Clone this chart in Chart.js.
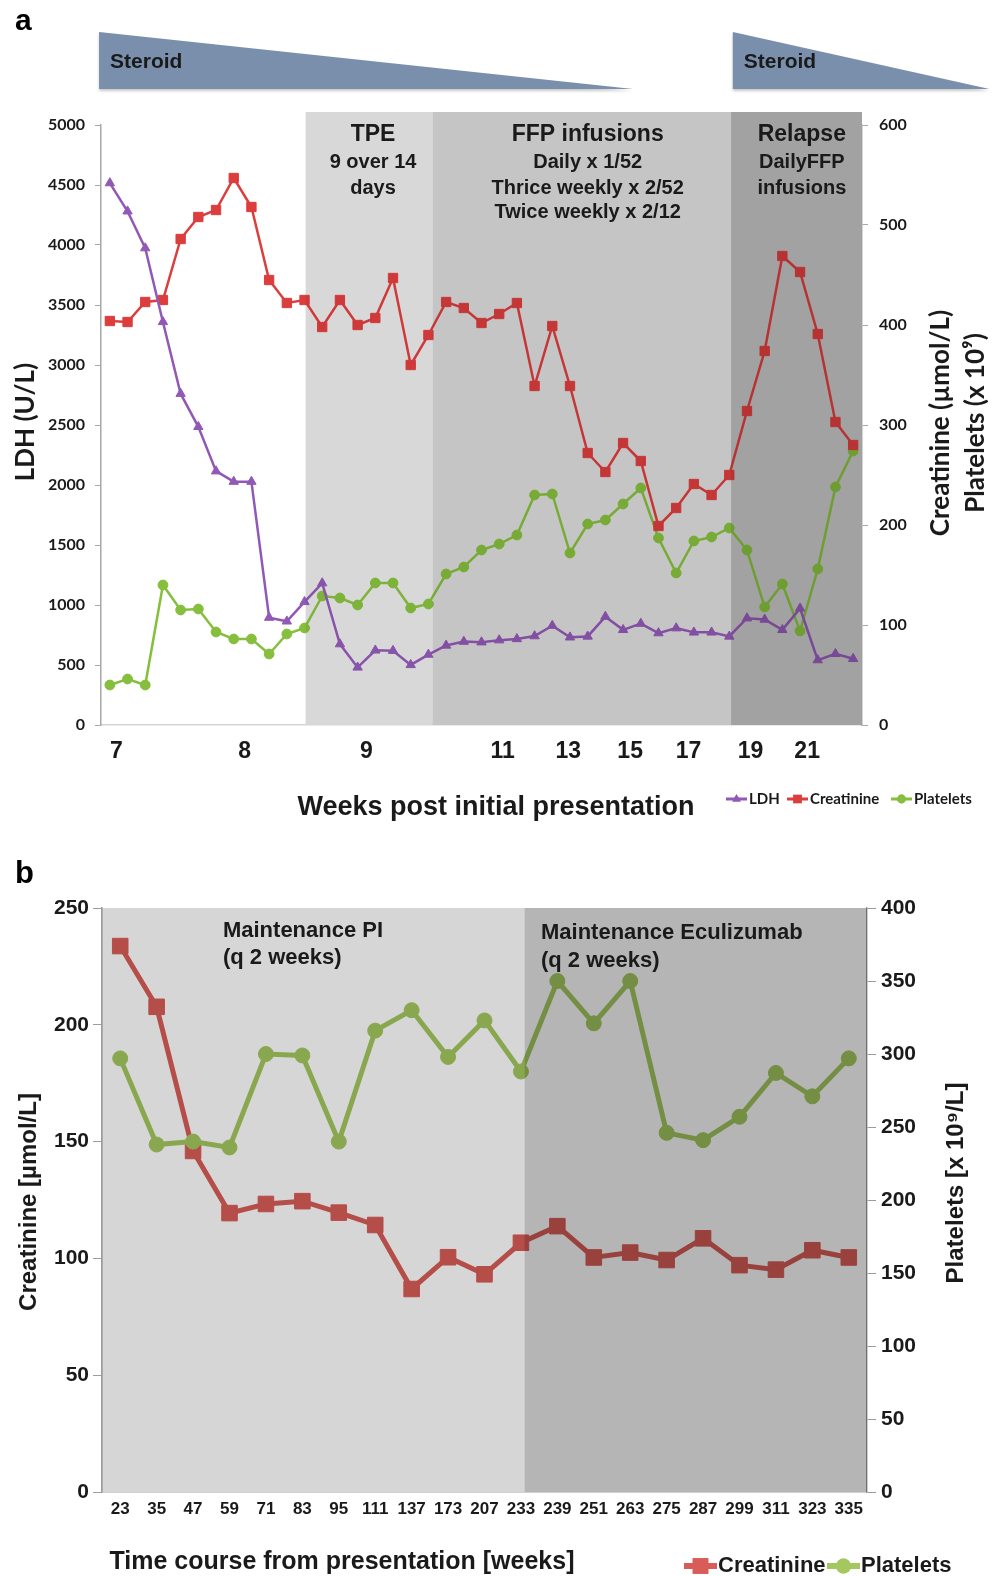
<!DOCTYPE html>
<html>
<head>
<meta charset="utf-8">
<script src="https://cdn.jsdelivr.net/npm/chart.js@4.4.1/dist/chart.umd.min.js"></script>
<style>
html,body{margin:0;padding:0;background:#fff;}
#wrap{position:relative;width:998px;height:1576px;overflow:hidden;background:#fff;}
#ca{position:absolute;left:0;top:0;}
#cb{position:absolute;left:0;top:835px;}
</style>
</head>
<body>
<div id="wrap">
<canvas id="ca" width="998" height="835"></canvas>
<canvas id="cb" width="998" height="741"></canvas>
</div>
<script>
// ---------------- Panel a data ----------------
const weeksATickPos    = [0.37, 7.62, 14.5, 22.2, 25.9, 29.4, 32.7, 36.2, 39.4];
const weeksATickLabels = ['7','8','9','11','13','15','17','19','21'];
const ldhA = [4516,4281,3974,3359,2761,2485,2115,2028,2028,895,864,1026,1182,674,480,622,619,501,587,663,695,690,707,717,741,828,731,738,903,793,845,766,807,772,772,738,890,879,793,972,541,593,552];
const creatinineA = [404,403,423,425,486,508,515,547,518,445,422,425,398,425,400,407,447,360,390,423,417,402,411,422,339,399,339,272,253,282,264,199,217,241,230,250,314,374,469,453,391,303,280];
const plateletsA = [40,46,40,140,115,116,93,86,86,71,91,97,129,127,120,142,142,117,121,151,158,175,181,190,230,231,172,201,205,221,237,187,152,184,188,197,175,118,141,94,156,238,274];
const phaseStartA = [11.06, 18.23, 35.1];
const phaseEndA   = [18.23, 35.1, 42.5];
const phaseLabelPosA = [14.87, 27.0, 39.1];
const phaseTitlesA = ['TPE', 'FFP infusions', 'Relapse'];
const phaseNotesA = [['9 over 14','days'], ['Daily x 1/52','Thrice weekly x 2/52','Twice weekly x 2/12'], ['DailyFFP','infusions']];
const steroidStartA = [-0.61, 35.2];
const steroidEndA   = [29.56, 49.7];
const steroidLabel = 'Steroid';

// ---------------- Panel b data ----------------
const weeksB = ['23','35','47','59','71','83','95','111','137','173','207','233','239','251','263','275','287','299','311','323','335'];
const creatinineB = [233.7,207.7,146,119.4,123.3,124.5,119.6,114.3,86.9,100.5,93.2,106.7,113.8,100.4,102.5,99.3,108.6,97.1,95.2,103.5,100.4];
const plateletsB  = [297,238,240,236,300,299,240,316,330,298,323,288,350,321,350,246,241,257,287,271,297];
const phaseStartB = [-0.5, 11.1];
const phaseEndB   = [11.1, 20.5];
const phaseLabelPosB = [2.82, 11.55];
const phaseTitlesB = [['Maintenance PI','(q 2 weeks)'], ['Maintenance Eculizumab','(q 2 weeks)']];

// ---------------- styles ----------------
const ARIAL = "'Liberation Sans', Arial, Helvetica, sans-serif";
const LATO = "Lato, 'Open Sans', sans-serif";
const TXT = '#1a1a1a';
const colA = {ldh:'#9159b5', cre:'#dc3d3d', plt:'#85bf3d'};
const colB = {cre:'#d85c57', plt:'#a4c85f'};
const underA = ['#e6e6e6', '#dcdcdc', '#c3c3c3'];
const shadeA = [0.06, 0.1, 0.17];
const shadeB = [0.16, 0.29];

function rotText(ctx, txt, x, y, font){
  ctx.save();
  ctx.translate(x, y);
  ctx.rotate(-Math.PI/2);
  ctx.font = font;
  ctx.fillStyle = TXT;
  ctx.textAlign = 'center';
  ctx.textBaseline = 'middle';
  ctx.fillText(txt, 0, 0);
  ctx.restore();
}

// ---------------- Panel a ----------------
const plugA = {
  id:'plugA',
  beforeDatasetsDraw(chart){
    const {ctx, chartArea:a, scales:{x}} = chart;
    ctx.save();
    const top = a.top - 13;
    phaseStartA.forEach((s,k)=>{
      const x0 = x.getPixelForValue(s), x1 = x.getPixelForValue(phaseEndA[k]);
      ctx.fillStyle = underA[k];
      ctx.fillRect(x0, top, x1 - x0, a.bottom - top);
    });
    ctx.restore();
  },
  afterDatasetsDraw(chart){
    const {ctx, chartArea:a, scales:{x}} = chart;
    ctx.save();
    const top = a.top - 13;
    phaseStartA.forEach((s,k)=>{
      const x0 = x.getPixelForValue(s), x1 = x.getPixelForValue(phaseEndA[k]);
      ctx.fillStyle = 'rgba(0,0,0,' + shadeA[k] + ')';
      ctx.fillRect(x0, top, x1 - x0, a.bottom - top);
    });
    ctx.fillStyle = TXT;
    ctx.textAlign = 'center';
    ctx.textBaseline = 'middle';
    const lineY = [162, 188, 212];
    phaseLabelPosA.forEach((p,k)=>{
      const cx = x.getPixelForValue(p);
      ctx.font = 'bold 23px ' + ARIAL;
      ctx.fillText(phaseTitlesA[k], cx, 135);
      ctx.font = 'bold 20px ' + ARIAL;
      phaseNotesA[k].forEach((t,j)=> ctx.fillText(t, cx, lineY[j]));
    });
    ctx.restore();
  },
  afterDraw(chart){
    const {ctx, scales:{x}} = chart;
    ctx.save();
    steroidStartA.forEach((s,k)=>{
      const x0 = x.getPixelForValue(s), x1 = x.getPixelForValue(steroidEndA[k]);
      ctx.save();
      ctx.shadowColor = 'rgba(0,0,0,0.22)';
      ctx.shadowBlur = 3;
      ctx.shadowOffsetY = 2;
      ctx.fillStyle = '#7a8fab';
      ctx.beginPath();
      ctx.moveTo(x0, 32); ctx.lineTo(x1, 89); ctx.lineTo(x0, 89); ctx.closePath();
      ctx.fill();
      ctx.restore();
      ctx.fillStyle = TXT;
      ctx.font = 'bold 21px ' + ARIAL;
      ctx.textAlign = 'left';
      ctx.textBaseline = 'middle';
      ctx.fillText(steroidLabel, x0 + 11, 62);
    });
    ctx.fillStyle = '#000';
    ctx.font = 'bold 30px ' + ARIAL;
    ctx.textAlign = 'left';
    ctx.textBaseline = 'alphabetic';
    ctx.fillText('a', 15, 30);
    rotText(ctx, 'LDH (U/L)', 26, 422, 'bold 26px ' + LATO);
    rotText(ctx, 'Creatinine (µmol/L)', 941, 423, 'bold 26px ' + LATO);
    rotText(ctx, 'Platelets (x 10⁹)', 976, 423, 'bold 26px ' + LATO);
    ctx.fillStyle = TXT;
    ctx.font = 'bold 27px ' + ARIAL;
    ctx.textAlign = 'center';
    ctx.textBaseline = 'middle';
    ctx.fillText('Weeks post initial presentation', 496, 808);
    const lx = [726, 787, 891];
    chart.data.datasets.forEach((ds,k)=>{
      const y = 799;
      ctx.strokeStyle = ds.borderColor;
      ctx.lineWidth = 3;
      ctx.beginPath(); ctx.moveTo(lx[k], y); ctx.lineTo(lx[k] + 21, y); ctx.stroke();
      ctx.fillStyle = ds.borderColor;
      Chart.helpers.drawPoint(ctx, {pointStyle: ds.pointStyle, radius: ds.pointRadius * 0.9, borderWidth: 0, rotation: 0}, lx[k] + 10.5, y);
      ctx.fill();
      ctx.fillStyle = TXT;
      ctx.font = 'bold 15px ' + LATO;
      ctx.textAlign = 'left';
      ctx.textBaseline = 'middle';
      ctx.fillText(ds.label, lx[k] + 23, y);
    });
    ctx.restore();
  }
};

const toXY = arr => arr.map((v,i)=>({x:i, y:v}));
const plain = v => String(v);

new Chart(document.getElementById('ca'), {
  type:'line',
  data:{
    datasets:[
      {label:'LDH', data:toXY(ldhA), yAxisID:'y', borderColor:colA.ldh, backgroundColor:colA.ldh, pointBorderColor:colA.ldh, pointStyle:'triangle', pointRadius:5.4, borderWidth:2.5, pointBorderWidth:1, tension:0},
      {label:'Creatinine', data:toXY(creatinineA), yAxisID:'y1', borderColor:colA.cre, backgroundColor:colA.cre, pointBorderColor:colA.cre, pointStyle:'rect', pointRadius:6.6, borderWidth:2.5, pointBorderWidth:1, tension:0},
      {label:'Platelets', data:toXY(plateletsA), yAxisID:'y1', borderColor:colA.plt, backgroundColor:colA.plt, pointBorderColor:colA.plt, pointStyle:'circle', pointRadius:4.9, borderWidth:2.5, pointBorderWidth:1, tension:0}
    ]
  },
  options:{
    responsive:false, animation:false, devicePixelRatio:1,
    layout:{padding:{top:125, left:0, right:0, bottom:0}},
    plugins:{legend:{display:false}, tooltip:{enabled:false}},
    scales:{
      x:{type:'linear', bounds:'data', min:-0.5, max:42.5,
         afterBuildTicks:s=>{ s.ticks = weeksATickPos.map(v=>({value:v})); },
         ticks:{autoSkip:false, maxRotation:0, minRotation:0, padding:13, color:TXT,
                callback:(v,i)=>weeksATickLabels[i], font:{family:ARIAL, size:23, weight:'bold'}},
         grid:{display:false, drawTicks:false},
         border:{display:true, color:'#d4d4d4', width:1.5},
         afterFit:s=>{ s.height = 110; }},
      y:{position:'left', min:0, max:5000,
         ticks:{stepSize:500, padding:10, color:TXT, callback:plain, font:{family:LATO, size:16, weight:'bold'}},
         grid:{drawOnChartArea:false, drawTicks:true, tickLength:6, color:'#a8a8a8'},
         border:{display:true, color:'#a8a8a8', width:1.5},
         afterFit:s=>{ s.width = 101; }},
      y1:{position:'right', min:0, max:600,
         ticks:{stepSize:100, padding:11, color:TXT, callback:plain, font:{family:LATO, size:16, weight:'bold'}},
         grid:{drawOnChartArea:false, drawTicks:true, tickLength:6, color:'#a8a8a8'},
         border:{display:true, color:'#a8a8a8', width:1.5},
         afterFit:s=>{ s.width = 136; }}
    }
  },
  plugins:[plugA]
});

// ---------------- Panel b ----------------
const plugB = {
  id:'plugB',
  afterDatasetsDraw(chart){
    const {ctx, chartArea:a, scales:{x}} = chart;
    ctx.save();
    phaseStartB.forEach((s,k)=>{
      const x0 = x.getPixelForValue(s), x1 = x.getPixelForValue(phaseEndB[k]);
      ctx.fillStyle = 'rgba(0,0,0,' + shadeB[k] + ')';
      ctx.fillRect(x0, a.top, x1 - x0, a.bottom - a.top);
    });
    ctx.fillStyle = TXT;
    ctx.font = 'bold 22px ' + ARIAL;
    ctx.textAlign = 'left';
    ctx.textBaseline = 'middle';
    const ly = [[96,123],[98,126]];
    phaseTitlesB.forEach((lines,k)=>{
      const px = x.getPixelForValue(phaseLabelPosB[k]);
      lines.forEach((t,j)=> ctx.fillText(t, px, ly[k][j]));
    });
    ctx.restore();
  },
  afterDraw(chart){
    const {ctx} = chart;
    ctx.save();
    ctx.fillStyle = '#000';
    ctx.font = 'bold 31px ' + ARIAL;
    ctx.textAlign = 'left';
    ctx.textBaseline = 'alphabetic';
    ctx.fillText('b', 15, 48);
    rotText(ctx, 'Creatinine [µmol/L]', 29.5, 367, 'bold 24px ' + ARIAL);
    rotText(ctx, 'Platelets [x 10⁹/L]', 956.5, 348, 'bold 24px ' + ARIAL);
    ctx.fillStyle = TXT;
    ctx.font = 'bold 25px ' + ARIAL;
    ctx.textAlign = 'center';
    ctx.textBaseline = 'middle';
    ctx.fillText('Time course from presentation [weeks]', 342, 727);
    const items = [chart.data.datasets[1], chart.data.datasets[0]];
    const lx = [684, 827];
    items.forEach((ds,k)=>{
      const y = 731;
      ctx.strokeStyle = ds.borderColor;
      ctx.lineWidth = 6;
      ctx.beginPath(); ctx.moveTo(lx[k], y); ctx.lineTo(lx[k] + 33, y); ctx.stroke();
      ctx.fillStyle = ds.borderColor;
      Chart.helpers.drawPoint(ctx, {pointStyle: ds.pointStyle, radius: ds.pointStyle === 'rect' ? 11 : 7.5, borderWidth: 0, rotation: 0}, lx[k] + 16.5, y);
      ctx.fill();
      ctx.fillStyle = TXT;
      ctx.font = 'bold 22px ' + ARIAL;
      ctx.textAlign = 'left';
      ctx.textBaseline = 'middle';
      ctx.fillText(ds.label, lx[k] + 34, y);
    });
    ctx.restore();
  }
};

new Chart(document.getElementById('cb'), {
  type:'line',
  data:{
    labels: weeksB,
    datasets:[
      {label:'Platelets', data:plateletsB, yAxisID:'y1', order:0, borderColor:colB.plt, backgroundColor:colB.plt, pointBorderColor:colB.plt, pointStyle:'circle', pointRadius:7.5, borderWidth:5, pointBorderWidth:1, tension:0},
      {label:'Creatinine', data:creatinineB, yAxisID:'y', order:1, borderColor:colB.cre, backgroundColor:colB.cre, pointBorderColor:colB.cre, pointStyle:'rect', pointRadius:11, borderWidth:5, pointBorderWidth:1, tension:0}
    ]
  },
  options:{
    responsive:false, animation:false, devicePixelRatio:1,
    layout:{padding:{top:73, left:0, right:0, bottom:0}},
    plugins:{legend:{display:false}, tooltip:{enabled:false}},
    scales:{
      x:{type:'category', offset:true,
         ticks:{autoSkip:false, maxRotation:0, minRotation:0, padding:7, color:TXT, font:{family:ARIAL, size:17, weight:'bold'}},
         grid:{display:false, drawTicks:false},
         border:{display:true, color:'#d0d0d0', width:1},
         afterFit:s=>{ s.height = 84; }},
      y:{position:'left', min:0, max:250,
         ticks:{stepSize:50, padding:4, color:TXT, callback:plain, font:{family:ARIAL, size:21, weight:'bold'}},
         grid:{drawOnChartArea:false, drawTicks:true, tickLength:9, color:'#9c9c9c'},
         border:{display:true, color:'#9c9c9c', width:1.5},
         afterFit:s=>{ s.width = 102; }},
      y1:{position:'right', min:0, max:400,
         ticks:{stepSize:50, padding:5, color:TXT, callback:plain, font:{family:ARIAL, size:21, weight:'bold'}},
         grid:{drawOnChartArea:false, drawTicks:true, tickLength:9, color:'#9c9c9c'},
         border:{display:true, color:'#9c9c9c', width:1.5},
         afterFit:s=>{ s.width = 131; }}
    }
  },
  plugins:[plugB]
});
</script>
</body>
</html>
